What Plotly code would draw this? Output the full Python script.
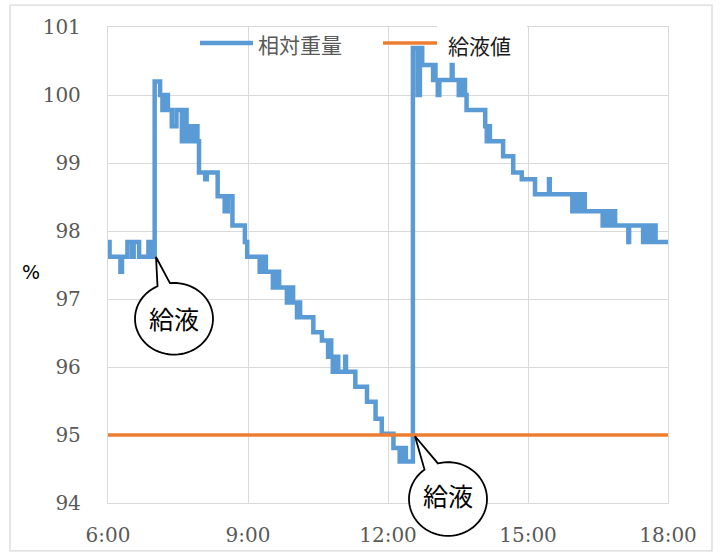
import math
import plotly.graph_objects as go

# ---------------- data ----------------
DAY = "2024-01-01 "

# change points of the relative weight (%), drawn as a step line
weight_times = [
    "06:00", "06:02", "06:16", "06:18", "06:25", "06:31", "06:33", "06:40", "06:52", "06:56",
    "07:00", "07:07", "07:10", "07:12", "07:17", "07:22", "07:28", "07:35", "07:40", "07:41",
    "07:45", "07:47", "07:49", "07:51", "07:53", "07:55", "07:57", "08:05", "08:07", "08:21",
    "08:30", "08:34", "08:40", "08:56", "08:59",
    "09:15", "09:17", "09:19", "09:21", "09:23", "09:32", "09:34", "09:36", "09:38", "09:40",
    "09:50", "09:52", "09:54", "09:56", "09:58", "10:03", "10:05", "10:07", "10:24", "10:35",
    "10:43", "10:45", "10:47", "10:49", "10:51", "10:53", "10:55", "10:56", "11:05", "11:06",
    "11:18", "11:33", "11:44", "11:52", "12:07", "12:15", "12:17", "12:19", "12:21", "12:23",
    "12:32", "12:38", "12:41", "12:44", "12:58", "13:00", "13:01", "13:04", "13:06", "13:22",
    "13:23", "13:31", "13:33", "13:35", "13:37", "13:39", "13:41", "14:05", "14:07", "14:09",
    "14:11", "14:28", "14:41", "14:52", "15:09", "15:27", "15:28", "15:57", "15:59", "16:01",
    "16:03", "16:05", "16:07", "16:09", "16:11", "16:13", "16:36", "16:38", "16:40", "16:42",
    "16:44", "16:46", "16:48", "16:50", "16:52", "17:09", "17:10", "17:28", "17:30", "17:32",
    "17:34", "17:36", "17:38", "17:40", "17:42", "17:44", "18:00",
]
weight_values = [
    97.84, 97.62, 97.40, 97.62, 97.84, 97.62, 97.84, 97.62, 97.84, 97.62,
    100.20, 100.00, 99.78, 100.00, 99.78, 99.54, 99.78, 99.32, 99.78, 99.32,
    99.54, 99.32, 99.54, 99.32, 99.54, 99.32, 98.86, 98.76, 98.86, 98.51,
    98.29, 98.51, 98.08, 97.84, 97.62,
    97.40, 97.62, 97.40, 97.62, 97.40, 97.17, 97.40, 97.17, 97.40, 97.17,
    96.95, 97.17, 96.95, 97.17, 96.95, 96.73, 96.95, 96.73, 96.51, 96.39,
    96.15, 96.39, 96.15, 95.93, 96.15, 95.93, 96.15, 95.93, 96.15, 95.93,
    95.71, 95.49, 95.24, 95.02, 94.81, 94.61, 94.81, 94.61, 94.81, 94.61,
    100.69, 100.00, 100.69, 100.44, 100.22, 100.44, 100.22, 100.00, 100.22, 100.44,
    100.22, 100.00, 100.22, 100.00, 100.22, 100.00, 99.78, 99.54, 99.32, 99.54,
    99.32, 99.10, 98.86, 98.76, 98.54, 98.76, 98.54, 98.29, 98.54, 98.29,
    98.54, 98.29, 98.54, 98.29, 98.54, 98.29, 98.08, 98.29, 98.08, 98.29,
    98.08, 98.29, 98.08, 98.29, 98.08, 97.84, 98.08, 97.84, 98.08, 97.84,
    98.08, 97.84, 98.08, 97.84, 98.08, 97.84, 97.84,
]

feed_times = ["06:00", "18:00"]
feed_values = [95, 95]

series_names = ["相対重量", "給液値"]
callout_text = "給液"
y_title = "%"

x_tickvals = ["06:00", "09:00", "12:00", "15:00", "18:00"]
x_ticktext = ["6:00", "9:00", "12:00", "15:00", "18:00"]
y_tickvals = [94, 95, 96, 97, 98, 99, 100, 101]

# ---------------- style ----------------
W, H = 720, 559
L, R, T, B = 108, 52, 27, 54
PW, PH = W - L - R, H - T - B
BLUE, ORANGE, GRID = "#5B9BD5", "#ED7D31", "#D9D9D9"
TICKFONT = dict(family="DejaVu Serif", size=20, color="#595959")
CJK = "Noto Sans CJK JP"


def px(xp, yp):
    """pixel position in the figure -> paper coordinates"""
    return (xp - L) / PW, (H - B - yp) / PH


fig = go.Figure()
fig.add_trace(go.Scatter(
    x=[DAY + t for t in weight_times], y=weight_values, mode="lines",
    line=dict(color=BLUE, width=4.5, shape="hv"), name=series_names[0], showlegend=False))
fig.add_trace(go.Scatter(
    x=[DAY + t for t in feed_times], y=feed_values, mode="lines",
    line=dict(color=ORANGE, width=3.5), name=series_names[1], showlegend=False))

shapes = []
annotations = []

# outer chart border
x0, y0 = px(10, 5)
x1, y1 = px(712, 553)
shapes.append(dict(type="rect", xref="paper", yref="paper", x0=x0, y0=y1, x1=x1, y1=y0,
                   line=dict(color=GRID, width=1.3), fillcolor="rgba(0,0,0,0)", layer="below"))

# legend (manual)
bx0, by0 = px(437, 25)
bx1, by1 = px(527, 62)
shapes.append(dict(type="rect", xref="paper", yref="paper", x0=bx0, y0=by1, x1=bx1, y1=by0,
                   line=dict(width=0), fillcolor="white", layer="above"))
for (xa, xb, col, wdt) in [(200, 253, BLUE, 4.5), (383, 437, ORANGE, 3.5)]:
    a = px(xa, 43)
    b = px(xb, 43)
    shapes.append(dict(type="line", xref="paper", yref="paper", x0=a[0], y0=a[1], x1=b[0], y1=b[1],
                       line=dict(color=col, width=wdt), layer="above"))
p = px(256, 44)
annotations.append(dict(xref="paper", yref="paper", x=p[0], y=p[1], xanchor="left", yanchor="middle",
                        text=series_names[0], showarrow=False, font=dict(family=CJK, size=21, color="#595959")))
p = px(446, 45)
annotations.append(dict(xref="paper", yref="paper", x=p[0], y=p[1], xanchor="left", yanchor="middle",
                        text=series_names[1], showarrow=False, font=dict(family=CJK, size=21, color="#1a1a1a")))

# y title
p = px(31, 273)
annotations.append(dict(xref="paper", yref="paper", x=p[0], y=p[1], xanchor="center", yanchor="middle",
                        text=y_title, showarrow=False, font=dict(family="DejaVu Sans", size=19, color="black")))


def bubble(cx, cy, rx, ry, tip, a_start, a_end_gap):
    pts = []
    n = 72
    span = 360 - a_end_gap
    for i in range(n + 1):
        ang = math.radians(a_start + span * i / n)
        pts.append(px(cx + rx * math.cos(ang), cy + ry * math.sin(ang)))
    pts.append(px(*tip))
    path = "M {:.5f},{:.5f} ".format(*pts[0])
    path += " ".join("L {:.5f},{:.5f}".format(*q) for q in pts[1:]) + " Z"
    return path


for (cx, cy, rx, ry, tip, a0, gap, tx, ty) in [
    (174, 320, 39, 36, (156, 258), -96, 19, 174, 319),
    (448, 501, 39, 37, (415, 438), -105, 22, 448, 497),
]:
    shapes.append(dict(type="path", xref="paper", yref="paper", path=bubble(cx, cy, rx, ry, tip, a0, gap),
                       line=dict(color="black", width=1.8), fillcolor="white", layer="above"))
    p = px(tx, ty)
    annotations.append(dict(xref="paper", yref="paper", x=p[0], y=p[1], xanchor="center", yanchor="middle",
                            text=callout_text, showarrow=False, font=dict(family=CJK, size=25, color="black")))

axis_common = dict(showgrid=True, gridcolor=GRID, gridwidth=1.3, showline=True, linecolor=GRID,
                   linewidth=1.3, mirror=True, zeroline=False, ticks="", tickfont=TICKFONT)

fig.update_layout(
    width=W, height=H, autosize=False,
    margin=dict(l=L, r=R, t=T, b=B),
    paper_bgcolor="white", plot_bgcolor="white",
    showlegend=False,
    xaxis=dict(type="date", range=[DAY + "06:00", DAY + "18:00"],
               tickvals=[DAY + t for t in x_tickvals], ticktext=x_ticktext,
               ticklabelstandoff=14, **axis_common),
    yaxis=dict(range=[94, 101], tickvals=y_tickvals, ticklabelstandoff=22, **axis_common),
    shapes=shapes, annotations=annotations,
)

fig.write_html("out.html", config={"displayModeBar": False},
               post_script="document.body.style.margin='0';")
